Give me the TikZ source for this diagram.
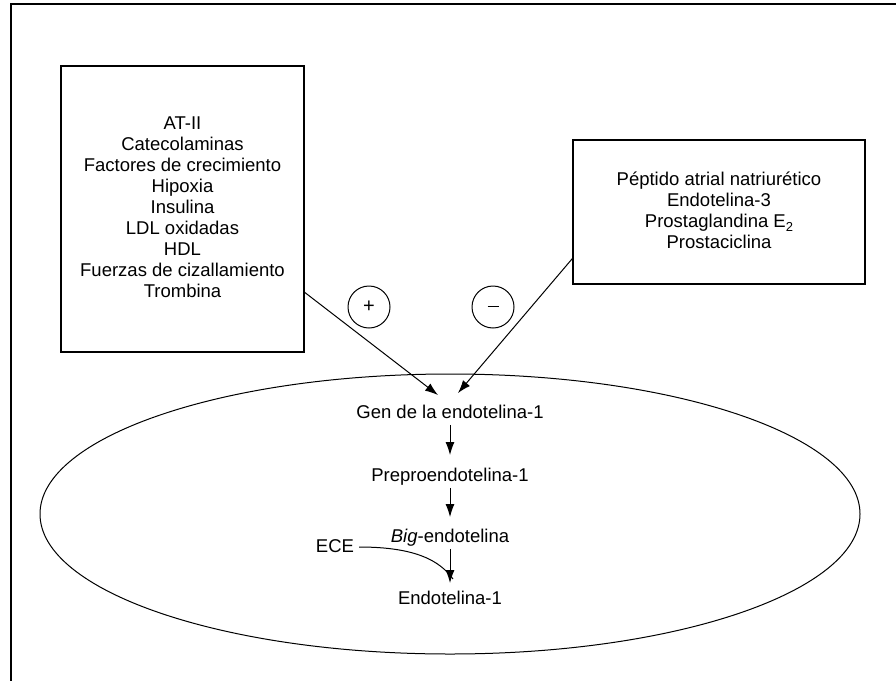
\documentclass[tikz,border=0pt]{standalone}
\usepackage{fontspec}
\setmainfont{Liberation Sans}
\usetikzlibrary{arrows.meta,calc}
\tikzset{
  box/.style={draw, line width=1.1pt, inner sep=0pt},
  lbl/.style={inner sep=2pt, text height=13.5pt, text depth=4pt, font=\fontsize{18.5}{21}\selectfont},
  multi/.style={align=center, font=\fontsize{18.5}{21}\selectfont},
  sign/.style={draw, circle, line width=1pt, minimum size=42pt, inner sep=0pt, font=\fontsize{20}{22}\selectfont},
  arr/.style={line width=1pt, -{Latex[length=13pt,width=9pt]}},
  conn/.style={line width=1pt},
}
\begin{document}
\begin{tikzpicture}[x=1pt,y=-1pt]
\clip (0,0) rectangle (896,680);
\fill[white] (0,0) rectangle (896,680);
% outer frame (open at right and bottom)
\draw[line width=1.3pt] (11,700) -- (11,4) -- (910,4);
% left box
\node[box, minimum width=243pt, minimum height=286pt] (L) at (182.5,209) {};
\node[multi] (Ltext) at (182.5,207) {AT-II\\Catecolaminas\\Factores de crecimiento\\Hipoxia\\Insulina\\LDL oxidadas\\HDL\\Fuerzas de cizallamiento\\Trombina};
% right box
\node[box, minimum width=292pt, minimum height=144pt] (R) at (719,212) {};
\node[multi] (Rtext) at (719,210) {Péptido atrial natriurético\\Endotelina-3\\Prostaglandina E\raisebox{-4pt}{\fontsize{13}{14}\selectfont 2}\\Prostaciclina};
% signs
\node[sign] (plus) at (369,307) {+};
\node[sign] (minus) at (493,307) {\raisebox{1pt}{\rule{11pt}{1.3pt}}};
% cell
\draw[line width=1pt] (450,514) ellipse [x radius=410, y radius=140];
% pathway
\node[lbl] (gen) at (450,414) {Gen de la endotelina-1};
\node[lbl] (pre) at (450,477) {Preproendotelina-1};
\node[lbl] (big) at (450,538) {\textit{Big}-endotelina};
\node[lbl] (endo) at (450,600) {Endotelina-1};
\node[lbl] (ece) at (335,548) {ECE};
\coordinate (Lout) at ($(L.north east)!0.79!(L.south east)$);
\coordinate (Rout) at ($(R.north west)!0.82!(R.south west)$);
\coordinate (tL) at ($(gen.north)+(-12,-8)$);
\coordinate (tR) at ($(gen.north)+(8,-10)$);
\draw[arr] (Lout) -- (tL);
\draw[arr] (Rout) -- (tR);
\draw[arr, shorten >=11pt] (gen) -- (pre);
\draw[arr, shorten >=10pt] (pre) -- (big);
\draw[arr, shorten >=6pt] (big) -- (endo);
\coordinate (join) at ($(big.south)!0.7!(endo.north)$);
\draw[conn] ($(ece.east)+(3,-1)$) .. controls ($(ece.east)+(60,-1)$) and ($(join)+(-10,-16)$) .. ($(join)+(3,2)$);
\end{tikzpicture}
\end{document}
